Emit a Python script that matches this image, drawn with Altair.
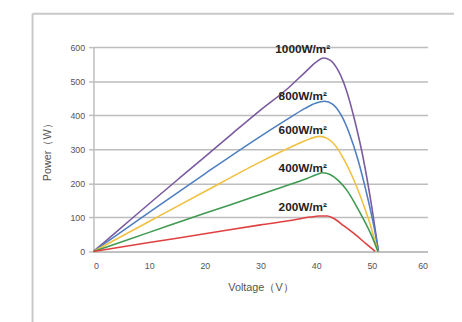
import altair as alt
import pandas as pd

# Data
v1000 = [0, 5, 10, 15, 20, 25, 30, 35, 38, 40, 41.3, 42.5, 44, 45.5, 47, 48.5, 50, 51.2]
p1000 = [0, 70, 140, 209, 278, 347, 415, 480, 526, 556, 568, 562, 530, 470, 380, 270, 130, 0]

v800 = [0, 10, 20, 30, 35, 38, 40, 41.5, 43, 44.5, 46, 47.5, 49, 50.3, 51.2]
p800 = [0, 115, 228, 338, 390, 420, 436, 441, 432, 400, 345, 270, 175, 80, 0]

v600 = [0, 10, 20, 30, 35, 38, 40.6, 42, 43.5, 45, 46.5, 48, 49.5, 51.1]
p600 = [0, 88, 176, 263, 303, 325, 338, 332, 310, 270, 220, 160, 90, 0]

v400 = [0, 10, 20, 30, 35, 38, 40, 41.2, 42.5, 44, 45.5, 47, 48.5, 50, 51.1]
p400 = [0, 56, 112, 167, 195, 212, 225, 231, 226, 208, 180, 140, 95, 45, 0]

v200 = [0, 10, 20, 30, 35, 39, 40.5, 42, 43, 45, 47, 49, 50.6]
p200 = [0, 26, 52, 78, 90, 101, 104, 104, 98, 75, 50, 22, 0]

series = ["1000W/m²", "800W/m²", "600W/m²", "400W/m²", "200W/m²"]
colors = ["#7a5aa0", "#4f7fc0", "#f0c040", "#3f9a50", "#e04040"]

label_v = [37.6, 37.6, 37.6, 37.6, 37.6]
label_p = [593, 457, 355, 245, 129]

x_ticks = [0, 10, 20, 30, 40, 50, 60]
y_ticks = [0, 100, 200, 300, 400, 500, 600]

rows = []
for name, vs, ps in zip(series, [v1000, v800, v600, v400, v200],
                        [p1000, p800, p600, p400, p200]):
    for i, (v, p) in enumerate(zip(vs, ps)):
        rows.append({"series": name, "V": v, "P": p, "order": i})
df = pd.DataFrame(rows)
labels = pd.DataFrame({"series": series, "V": label_v, "P": label_p})

xscale = alt.Scale(domain=[0, 60], nice=False, zero=True)
yscale = alt.Scale(domain=[0, 600], nice=False)

lines = alt.Chart(df).mark_line(strokeWidth=1.6, interpolate="monotone").encode(
    x=alt.X("V:Q", scale=xscale,
            axis=alt.Axis(values=x_ticks, title="Voltage（V）", grid=False,
                          ticks=False, domain=True, domainColor="#bdbdbd",
                          domainWidth=1.5, labelPadding=10, titlePadding=12,
                          labelOverlap=False)),
    y=alt.Y("P:Q", scale=yscale,
            axis=alt.Axis(values=y_ticks, title="Power（W）", grid=True,
                          gridColor="#bdbdbd", gridWidth=1.5, ticks=True,
                          tickSize=5, tickColor="#bdbdbd", tickWidth=1.5,
                          domain=True, domainColor="#bdbdbd", domainWidth=1.5,
                          labelPadding=4, titlePadding=18,
                          labelOverlap=False, tickCount=7)),
    color=alt.Color("series:N", scale=alt.Scale(domain=series, range=colors),
                    legend=None),
    order="order:Q",
    detail="series:N",
)

text = alt.Chart(labels).mark_text(fontSize=12, fontWeight="bold",
                                   font="Liberation Sans", color="#222222").encode(
    x=alt.X("V:Q", scale=xscale),
    y=alt.Y("P:Q", scale=yscale),
    text="series:N",
)

frame_top = alt.Chart(pd.DataFrame({"a": [0]})).mark_rule(
    color="#c8c8c8", strokeWidth=2).encode(
    x=alt.value(-62), x2=alt.value(380), y=alt.value(-34))
frame_left = alt.Chart(pd.DataFrame({"a": [0]})).mark_rule(
    color="#c8c8c8", strokeWidth=2).encode(
    x=alt.value(-62), y=alt.value(-34), y2=alt.value(280))

chart = alt.layer(frame_top, frame_left, lines, text).properties(
    width=340, height=208,
    autosize=alt.AutoSizeParams(type="none"),
    padding={"left": 87, "top": 37, "right": 27, "bottom": 69},
    background="white",
).configure_view(stroke=None).configure_axis(
    labelColor="#555555", labelFontSize=9, titleColor="#555555",
    titleFontSize=11, titleFontWeight="normal", labelFont="Liberation Sans",
    titleFont="Liberation Sans",
)

chart.save("out.html", embed_options={"renderer": "svg", "actions": False})
